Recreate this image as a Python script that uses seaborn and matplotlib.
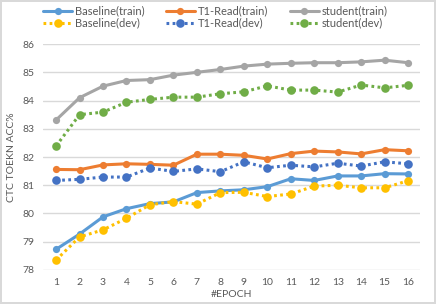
import pandas as pd
import matplotlib.pyplot as plt
import seaborn as sns

# values
epochs = list(range(1, 17))
baseline_train = [78.73, 79.27, 79.88, 80.17, 80.35, 80.41, 80.74, 80.80, 80.84, 80.95, 81.23, 81.17, 81.33, 81.33, 81.41, 81.40]
t1_train = [81.56, 81.55, 81.72, 81.76, 81.74, 81.71, 82.10, 82.10, 82.06, 81.93, 82.12, 82.21, 82.18, 82.11, 82.26, 82.22]
student_train = [83.31, 84.10, 84.51, 84.71, 84.74, 84.90, 85.00, 85.10, 85.22, 85.29, 85.32, 85.34, 85.34, 85.37, 85.43, 85.34]
baseline_dev = [78.35, 79.17, 79.42, 79.83, 80.31, 80.42, 80.33, 80.74, 80.75, 80.60, 80.69, 80.97, 81.00, 80.91, 80.91, 81.16]
t1_dev = [81.17, 81.21, 81.29, 81.29, 81.61, 81.49, 81.58, 81.48, 81.83, 81.62, 81.71, 81.65, 81.78, 81.68, 81.83, 81.76]
student_dev = [82.39, 83.50, 83.59, 83.94, 84.04, 84.12, 84.12, 84.24, 84.31, 84.52, 84.37, 84.37, 84.30, 84.55, 84.45, 84.54]

series = [
    ('Baseline(train)', baseline_train, '#5B9BD5', '-'),
    ('T1-Read(train)', t1_train, '#ED7D31', '-'),
    ('student(train)', student_train, '#A5A5A5', '-'),
    ('Baseline(dev)', baseline_dev, '#FFC000', ':'),
    ('T1-Read(dev)', t1_dev, '#4472C4', ':'),
    ('student(dev)', student_dev, '#70AD47', ':'),
]

sns.set_theme(style="white")
plt.rcParams['font.family'] = ['Lato', 'DejaVu Sans']

fig = plt.figure(figsize=(4.36, 3.04), dpi=100)
fig.patch.set_edgecolor('#D9D9D9')
fig.patch.set_linewidth(1.5)
ax = fig.add_axes([0.099, 0.112, 0.864, 0.743])

handles = {}
for name, vals, color, ls in series:
    df = pd.DataFrame({'epoch': epochs, 'acc': vals})
    dotted = ls == ':'
    sns.lineplot(data=df, x='epoch', y='acc', ax=ax, color=color,
                 linewidth=2.2, marker='o',
                 markersize=6.2 if dotted else 5.2,
                 markeredgewidth=0, label=name)
    line = ax.lines[-1]
    if dotted:
        line.set_linestyle((0, (0.9, 1.1)))
    handles[name] = line

ax.set_ylim(78, 86)
ax.set_xlim(0.45, 16.5)
ax.set_yticks(range(78, 87))
ax.set_xticks(epochs)
ax.grid(axis='y', color='#D9D9D9', linewidth=1)
ax.set_axisbelow(True)
for s in ax.spines.values():
    s.set_visible(False)
ax.tick_params(axis='both', labelsize=7.5, labelcolor='#595959', length=0, pad=6)
ax.set_xlabel('#EPOCH', fontsize=7.5, color='#595959', labelpad=2)
ax.set_ylabel('CTC TOEKN ACC%', fontsize=7.5, color='#595959', labelpad=5)

# legend spread over the width, 2 rows x 3 columns like the Excel original
order = ['Baseline(train)', 'Baseline(dev)', 'T1-Read(train)', 'T1-Read(dev)',
         'student(train)', 'student(dev)']
ax.legend([handles[n] for n in order], order, ncol=3, frameon=False,
          fontsize=8, labelcolor='#595959', loc='upper left', mode='expand',
          bbox_to_anchor=(0.0, 1.0, 0.915, 0.17), handlelength=2.6,
          handletextpad=0.3, labelspacing=0.1, borderaxespad=0, borderpad=0)

plt.savefig('out.png', dpi=100, edgecolor=fig.get_edgecolor())
